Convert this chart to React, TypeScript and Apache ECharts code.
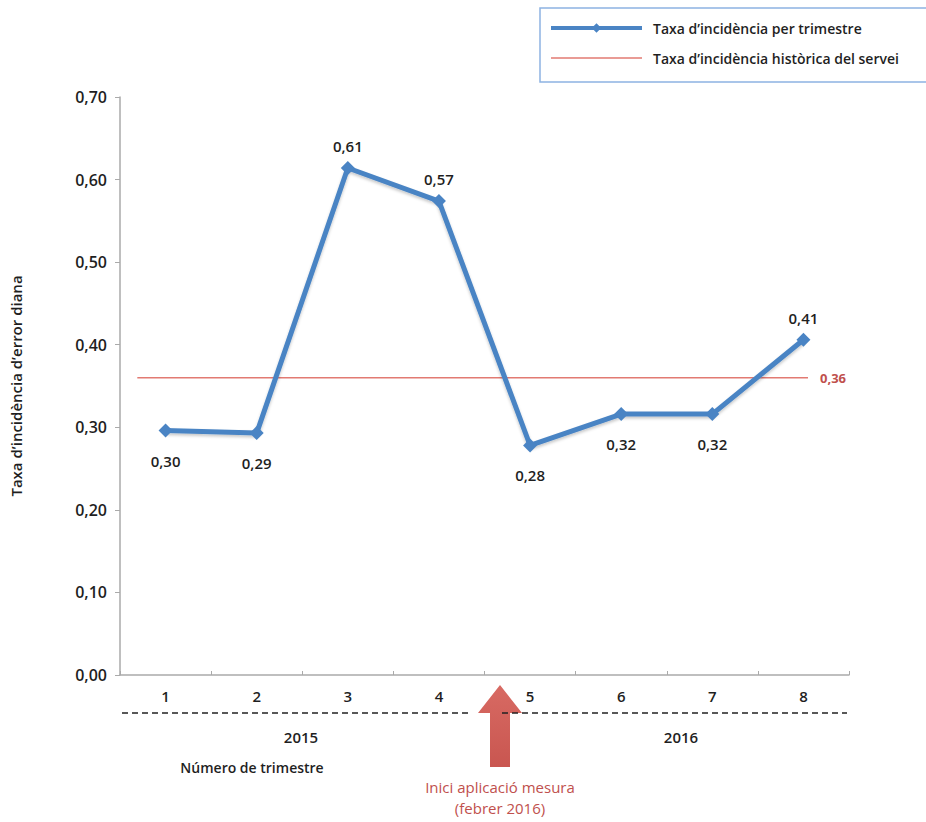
import React, { useEffect, useRef } from "react";
import * as echarts from "echarts";

// Quarter numbers on the category axis
const quarters = ["1", "2", "3", "4", "5", "6", "7", "8"];
// Incidence rate of target error per quarter
const quarterlyRate = [0.296, 0.293, 0.614, 0.574, 0.278, 0.316, 0.316, 0.406];
// Whether each value label sits above the point
const labelAbove = [false, false, true, true, false, false, false, true];
// Historical incidence rate of the service and the quarter span it is drawn over
const historicalRate = 0.36;
const historicalSpan = [0.69, 8.05];
// Value axis range
const yMin = 0;
const yMax = 0.7;
const yStep = 0.1;
// Year groups under the quarter axis
const years = ["2015", "2016"];

const seriesNames = [
  "Taxa d\u2019incidència per trimestre",
  "Taxa d\u2019incidència històrica del servei",
];

const FONT = "'Open Sans', 'DejaVu Sans', sans-serif";
const TEXT = "#1f1f1f";
const W = 600;
const BLUE = "#4a84c4";
const RED_LINE = "#e27a72";
const RED_TEXT = "#c0504d";

const fmt = (v: number) => v.toFixed(2).replace(".", ",");

export default function App() {
  const ref = useRef<HTMLDivElement>(null);

  useEffect(() => {
    document.body.style.margin = "0";
    if (!ref.current) return;
    const chart = echarts.init(ref.current, undefined, { renderer: "svg" });

    const text = (x: number, y: number, s: string, size: number, fill: string, weight: number) => ({
      type: "text",
      x,
      y,
      style: {
        text: s,
        fontFamily: FONT,
        fontSize: size,
        fontWeight: weight,
        fill,
        align: "center",
        verticalAlign: "middle",
      },
    });

    const option: any = {
      animation: false,
      backgroundColor: "#ffffff",
      textStyle: { fontFamily: FONT, color: TEXT },
      grid: { left: 116, right: 77, top: 97, bottom: 147, containLabel: false },
      legend: {
        orient: "vertical",
        left: 549,
        top: 20,
        padding: 0,
        itemWidth: 91,
        itemHeight: 12,
        itemGap: 14,
        data: [
          { name: seriesNames[0], lineStyle: { width: 4 } },
          { name: seriesNames[1], itemStyle: { opacity: 0 }, lineStyle: { width: 1.5 } },
        ],
        textStyle: {
          fontFamily: FONT,
          fontSize: 14,
          fontWeight: W,
          color: TEXT,
          lineHeight: 16,
          padding: [0, 0, 0, 6],
        },
      },
      xAxis: [
        {
          type: "category",
          data: quarters,
          boundaryGap: true,
          axisLine: { show: true, lineStyle: { color: "#aaaaaa", width: 1.5 } },
          axisTick: { show: true, inside: true, length: 4, lineStyle: { color: "#aaaaaa" } },
          axisLabel: { fontFamily: FONT, fontSize: 15, fontWeight: W, color: TEXT, margin: 13 },
          splitLine: { show: false },
        },
        {
          type: "value",
          min: 0.5,
          max: 8.5,
          show: false,
        },
      ],
      yAxis: {
        type: "value",
        min: yMin,
        max: yMax,
        interval: yStep,
        name: "Taxa d\u2019incidència d\u2019error diana",
        nameLocation: "middle",
        nameRotate: 90,
        nameGap: 97,
        nameTextStyle: { fontFamily: FONT, fontSize: 15, fontWeight: W, color: TEXT },
        axisLine: { show: true, lineStyle: { color: "#aaaaaa", width: 1.5 } },
        axisTick: { show: true, length: 5, lineStyle: { color: "#aaaaaa" } },
        axisLabel: {
          fontFamily: FONT,
          fontSize: 16,
          fontWeight: W,
          color: TEXT,
          margin: 13,
          formatter: (v: number) => fmt(v),
        },
        splitLine: { show: false },
      },
      series: [
        {
          name: seriesNames[0],
          type: "line",
          xAxisIndex: 0,
          data: quarterlyRate.map((v, i) => ({
            value: v,
            label: {
              position: labelAbove[i] ? "top" : "bottom",
              distance: labelAbove[i] ? 6 : 14,
            },
          })),
          symbol: "diamond",
          symbolSize: 14,
          showSymbol: true,
          itemStyle: { color: BLUE },
          lineStyle: {
            color: BLUE,
            width: 5,
            shadowColor: "rgba(0,0,0,0.22)",
            shadowBlur: 3,
            shadowOffsetY: 2,
          },
          label: {
            show: true,
            fontFamily: FONT,
            fontSize: 15,
            fontWeight: W,
            lineHeight: 18,
            color: TEXT,
            formatter: (p: any) => fmt(p.value),
          },
          z: 3,
        },
        {
          name: seriesNames[1],
          type: "line",
          xAxisIndex: 1,
          data: historicalSpan.map((x) => [x, historicalRate]),
          symbol: "none",
          lineStyle: { color: RED_LINE, width: 1.5 },
          itemStyle: { color: RED_LINE },
          endLabel: {
            show: true,
            distance: 12,
            fontFamily: FONT,
            fontSize: 13,
            fontWeight: "bold",
            color: RED_TEXT,
            formatter: () => fmt(historicalRate),
          },
          z: 2,
        },
      ],
      graphic: [
        // legend frame
        {
          type: "rect",
          shape: { x: 540, y: 8, width: 400, height: 74 },
          style: { fill: "none", stroke: "#8db3e2", lineWidth: 1.5 },
          z: 1,
        },
        // arrow marking the start of the intervention
        {
          type: "polygon",
          shape: {
            points: [
              [500, 685],
              [522, 713],
              [510, 713],
              [510, 767],
              [490, 767],
              [490, 713],
              [478, 713],
            ],
          },
          style: {
            fill: new echarts.graphic.LinearGradient(0, 0, 0, 1, [
              { offset: 0, color: "#d86a63" },
              { offset: 1, color: "#c95650" },
            ]),
          },
          z: 5,
        },
        // dashed year separators
        {
          type: "line",
          shape: { x1: 122, y1: 713, x2: 468, y2: 713 },
          style: { stroke: "#222222", lineWidth: 1.6, lineDash: [6, 4] },
          z: 6,
        },
        {
          type: "line",
          shape: { x1: 502, y1: 713, x2: 847, y2: 713 },
          style: { stroke: "#222222", lineWidth: 1.6, lineDash: [6, 4] },
          z: 6,
        },
        text(301, 737, years[0], 15, TEXT, W),
        text(681, 737, years[1], 15, TEXT, W),
        text(252, 767, "Número de trimestre", 14, TEXT, W),
        text(500, 787, "Inici aplicació mesura", 15, RED_TEXT, 400),
        text(500, 808, "(febrer 2016)", 15, RED_TEXT, 400),
      ],
    };

    chart.setOption(option);
    return () => chart.dispose();
  }, []);

  return <div ref={ref} style={{ width: 926, height: 822 }} />;
}
